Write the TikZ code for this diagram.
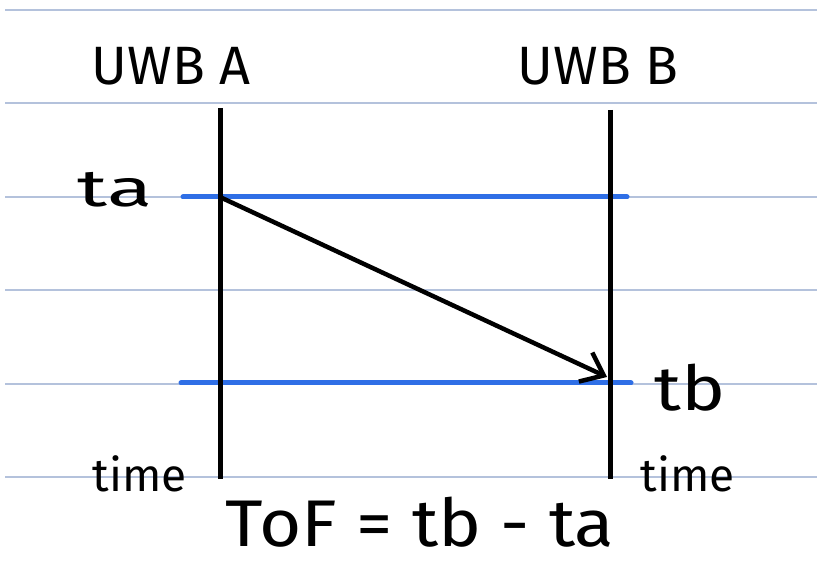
\documentclass[tikz,border=0pt]{standalone}
\usepackage{fontspec}
\setmainfont{Fira Sans}
\usetikzlibrary{arrows.meta}
\definecolor{rule}{HTML}{B4C2DC}
\definecolor{mark}{HTML}{2F6FE6}
\tikzset{
  ruled/.style={draw=rule, line width=1.6pt},
  lifeline/.style={draw=black, line width=5pt},
  event/.style={draw=mark, line width=5pt, line cap=round},
  msg/.style={draw=black, line width=4.5pt, line cap=round, -{Straight Barb[length=20pt,width=32pt,line width=4.5pt]}},
  lbl/.style={inner sep=0pt, text=black},
}
\begin{document}
\begin{tikzpicture}[x=1pt,y=-1pt]
\useasboundingbox (0,0) rectangle (817,569);
\fill[white] (0,0) rectangle (817,569);
\foreach \yy in {10,103,197,290,384,477}
  \draw[ruled] (5,\yy) -- (817,\yy);
% coordinates
\coordinate (atop) at (220,108);
\coordinate (abot) at (220,479);
\coordinate (btop) at (610,110);
\coordinate (bbot) at (610,479);
\coordinate (ea1) at (183,197);
\coordinate (ea2) at (627,197);
\coordinate (eb1) at (181,383);
\coordinate (eb2) at (631,383);
\coordinate (send) at (222,198);
\coordinate (recv) at (607,377);
% event lines
\draw[event] (ea1) -- (ea2);
\draw[event] (eb1) -- (eb2);
% lifelines
\draw[lifeline] (atop) -- (abot);
\draw[lifeline] (btop) -- (bbot);
% message
\draw[msg] (send) -- (recv);
% labels
\node[lbl, font=\fontsize{54}{58}\selectfont] (ua) at (171,66) {UWB A};
\node[lbl, font=\fontsize{54}{58}\selectfont] (ub) at (598,66) {UWB B};
\node[lbl, font=\fontsize{52}{56}\selectfont] (ta) at (115,190) {\scalebox{1.6}[1]{ta}};
\node[lbl, font=\fontsize{62}{66}\selectfont] (tb) at (690,388) {\scalebox{1.2}[1]{tb}};
\node[lbl, font=\fontsize{46}{50}\selectfont] (timea) at (140,474) {time};
\node[lbl, font=\fontsize{46}{50}\selectfont] (timeb) at (688,474) {time};
\node[lbl, font=\fontsize{66}{70}\selectfont] (tof) at (420,522) {\scalebox{1.1}[1]{ToF = tb - ta}};
\end{tikzpicture}
\end{document}
